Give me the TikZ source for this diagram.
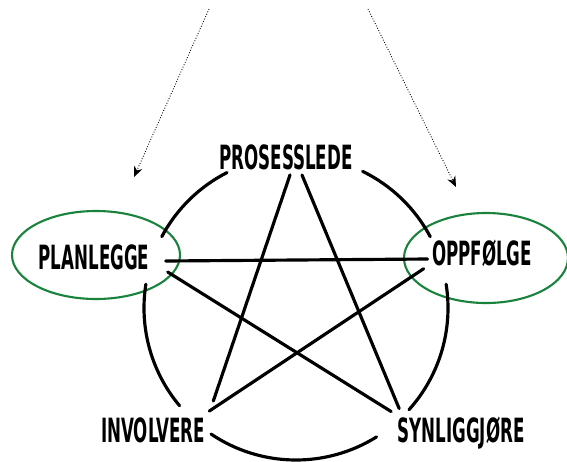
\documentclass[tikz,border=0pt]{standalone}
\usepackage{fontspec}
\newfontfamily\handfont[FakeStretch=0.5]{DejaVu Sans Bold}
\usetikzlibrary{calc, arrows.meta}
\definecolor{Ringgreen}{RGB}{25,130,60}

\begin{document}
\begin{tikzpicture}[
  x=0.02cm, y=0.02cm,
  lbl/.style={inner sep=0pt, font=\handfont\fontsize{19}{21}\selectfont},
  pen/.style={line width=1.8pt, line cap=round},
  oval/.style={draw=Ringgreen, line width=1.2pt},
  arr/.style={->, >={Stealth[length=6pt, width=5pt]}, densely dotted,
              line width=0.5pt}
]
\useasboundingbox (0,0) rectangle (567,461);

\coordinate (ring) at (296,153);

\node[lbl] (prosess)   at (286,304) {PROSESSLEDE};
\node[lbl] (planlegge) at ( 94,204) {PLANLEGGE};
\node[lbl] (oppfolge)  at (482,208) {OPPFØLGE};
\node[lbl] (involvere) at (153, 31) {INVOLVERE};
\node[lbl] (synlig)    at (461, 28) {SYNLIGGJØRE};

\draw[oval] (96,206) ellipse [x radius=84, y radius=44];
\draw[oval] (486,203) ellipse [x radius=82, y radius=45];

% ring pieces
\draw[pen] ($(ring)+(117:152)$) arc[start angle=117, end angle=152, radius=152];
\draw[pen] ($(ring)+(28:152)$)  arc[start angle=28,  end angle=64,  radius=152];
\draw[pen] ($(ring)+(171:152)$) arc[start angle=171, end angle=220, radius=152];
\draw[pen] ($(ring)+(-42:152)$) arc[start angle=-42, end angle=9,   radius=152];
\draw[pen] ($(ring)+(236:152)$) arc[start angle=236, end angle=302, radius=152];

% star
\draw[pen] ($(planlegge.east)+(16,-4)$) -- ($(oppfolge.west)+(-4,-6)$);
\draw[pen] ($(planlegge.south east)+(18,-2)$) -- ($(synlig.north west)+(-6,5)$);
\draw[pen] ($(oppfolge.south west)+(-8,-2)$) -- ($(involvere.north east)+(4,6)$);
\draw[pen] ($(prosess.south)+(4,-5)$) -- ($(involvere.north east)+(8,16)$);
\draw[pen] ($(prosess.south)+(16,-5)$) -- ($(synlig.north west)+(2,8)$);

% hints
\coordinate (lefttop)  at (209,452);
\coordinate (righttop) at (368,452);
\draw[arr] (lefttop)  -- ($(planlegge)+(40,80)$);
\draw[arr] (righttop) -- ($(oppfolge)+(-26,66)$);
\end{tikzpicture}
\end{document}
